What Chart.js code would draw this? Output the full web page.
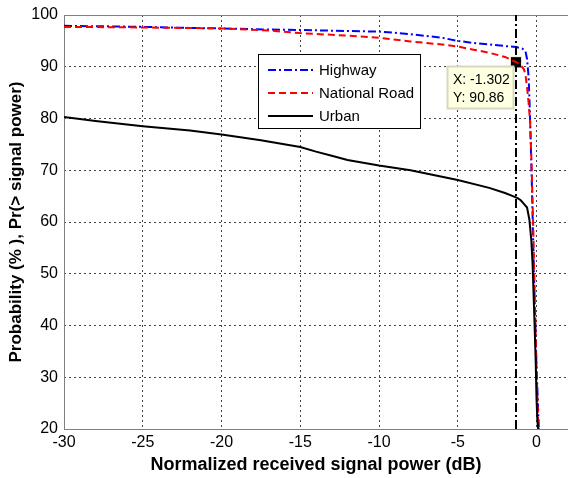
<!DOCTYPE html>
<html>
<head>
<meta charset="utf-8">
<script src="https://cdn.jsdelivr.net/npm/chart.js@4.4.1/dist/chart.umd.min.js"></script>
<style>
  html, body { margin: 0; padding: 0; background: #fff; overflow: hidden; }
  #wrap { width: 568px; height: 478px; }
</style>
</head>
<body>
<div id="wrap"><canvas id="myChart" width="568" height="478"></canvas></div>
<script>
// data
const highwayX = [-30, -27, -25, -22, -20, -17, -15, -12, -10, -8, -6, -5, -4, -3, -2, -1.3, -0.9, -0.7, -0.6, -0.5, -0.45, -0.4, -0.3, -0.2, -0.1, 0, 0.1, 0.15];
const highwayY = [97.9, 97.8, 97.7, 97.5, 97.4, 97.2, 97.1, 96.9, 96.8, 96.3, 95.6, 95.0, 94.6, 94.3, 94.0, 93.8, 93.5, 93.0, 91.5, 88, 84, 79, 68, 55, 43, 32, 24, 20];

const nationalX = [-30, -25, -20, -17, -15, -12, -10, -8, -6, -5, -4, -3, -2, -1.3, -1, -0.8, -0.7, -0.6, -0.5, -0.4, -0.3, -0.2, -0.1, 0, 0.1, 0.15];
const nationalY = [97.7, 97.6, 97.4, 97.0, 96.5, 96.0, 95.6, 94.9, 94.3, 93.9, 93.3, 92.7, 91.9, 90.9, 90.3, 89.5, 88.5, 86, 83, 79, 70, 58, 44, 32, 22, 20];

const urbanX = [-30, -28, -25, -22, -20, -17.5, -15, -14, -13, -12, -10, -8, -5, -3, -2, -1.5, -1.2, -1, -0.8, -0.6, -0.45, -0.33, -0.25, -0.2, -0.13, -0.05, 0, 0.05, 0.1];
const urbanY = [80.3, 79.5, 78.5, 77.7, 76.9, 75.8, 74.5, 73.6, 72.8, 72.0, 70.9, 70.0, 68.1, 66.6, 65.6, 65.0, 64.6, 64.2, 63.5, 62.8, 60.4, 56.5, 52, 47.4, 41, 33, 26, 22, 20];

const cursorX = -1.302;
const cursorY = 90.86;
const cursorLineY = [20, 100];

const seriesNames = ['Highway', 'National Road', 'Urban'];

const FONT = 'Arial, "Liberation Sans", sans-serif';

function toPoints(xs, ys) {
    return xs.map((x, i) => ({ x: x, y: ys[i] }));
}

const frameBorder = {
    id: 'frameBorder',
    beforeDatasetsDraw(chart) {
        const { ctx, chartArea: a } = chart;
        ctx.save();
        ctx.strokeStyle = '#808080';
        ctx.lineWidth = 1;
        ctx.strokeRect(a.left + 0.5, a.top + 0.5, a.right - a.left, a.bottom - a.top);
        ctx.restore();
    }
};

// legend box and data tip, drawn before the marker so the marker stays on top
const legendBox = {
    id: 'legendBox',
    afterDatasetDraw(chart, args) {
        if (args.index !== 3) return;
        const ctx = chart.ctx;
        ctx.save();
        ctx.fillStyle = '#fff';
        ctx.fillRect(258, 54, 162, 74);
        ctx.strokeStyle = '#000';
        ctx.lineWidth = 1;
        ctx.strokeRect(258.5, 54.5, 162, 74);
        const rows = [
            { y: 70, color: '#0000ff', dash: [8, 3, 2, 3] },
            { y: 93, color: '#ff0000', dash: [7, 4] },
            { y: 116, color: '#000000', dash: [] }
        ];
        rows.forEach((r, i) => {
            ctx.beginPath();
            ctx.setLineDash(r.dash);
            ctx.strokeStyle = r.color;
            ctx.lineWidth = 2;
            ctx.moveTo(268, r.y);
            ctx.lineTo(313, r.y);
            ctx.stroke();
            ctx.setLineDash([]);
            ctx.fillStyle = '#000';
            ctx.font = '15px ' + FONT;
            ctx.textBaseline = 'middle';
            ctx.textAlign = 'left';
            ctx.fillText(seriesNames[i], 319, r.y + 1);
        });

        // data tip
        ctx.fillStyle = '#ffffe1';
        ctx.fillRect(447, 66, 66, 42);
        ctx.strokeStyle = '#d8d8c0';
        ctx.strokeRect(447.5, 66.5, 66, 42);
        ctx.fillStyle = '#000';
        ctx.font = '14px ' + FONT;
        ctx.fillText('X: -1.302', 453, 80);
        ctx.fillText('Y: 90.86', 453, 98);
        ctx.restore();
    }
};

new Chart(document.getElementById('myChart'), {
    type: 'line',
    data: {
        datasets: [
            {
                label: 'Cursor',
                data: toPoints([cursorX, cursorX], cursorLineY),
                borderColor: '#000',
                borderWidth: 2,
                borderDash: [9, 3, 2, 3],
                pointRadius: 0
            },
            {
                label: seriesNames[2],
                data: toPoints(urbanX, urbanY),
                borderColor: '#000',
                borderWidth: 2,
                pointRadius: 0
            },
            {
                label: seriesNames[1],
                data: toPoints(nationalX, nationalY),
                borderColor: '#ff0000',
                borderWidth: 2,
                borderDash: [7, 4],
                pointRadius: 0
            },
            {
                label: seriesNames[0],
                data: toPoints(highwayX, highwayY),
                borderColor: '#0000ff',
                borderWidth: 2,
                borderDash: [8, 3, 2, 3],
                pointRadius: 0
            },
            {
                label: 'Marker',
                data: [{ x: cursorX, y: cursorY }],
                showLine: false,
                pointStyle: 'rect',
                pointRadius: 8,
                backgroundColor: '#000',
                borderColor: '#ffffe1',
                borderWidth: 1
            }
        ]
    },
    options: {
        responsive: false,
        animation: false,
        layout: { autoPadding: false, padding: { top: 15, right: 0, left: 0, bottom: 0 } },
        elements: { line: { tension: 0, fill: false } },
        plugins: {
            legend: { display: false },
            tooltip: { enabled: false }
        },
        scales: {
            x: {
                type: 'linear',
                min: -30,
                max: 2,
                border: { display: false, dash: [2, 3] },
                grid: {
                    color: '#444',
                    lineWidth: 1,
                    drawTicks: false
                },
                ticks: {
                    stepSize: 5,
                    includeBounds: false,
                    padding: 4,
                    color: '#000',
                    font: { family: FONT, size: 16 }
                },
                title: {
                    display: true,
                    text: 'Normalized received signal power (dB)',
                    color: '#000',
                    font: { family: FONT, size: 18, weight: 'bold' },
                    padding: { top: 0, bottom: 2 }
                },
                afterFit(scale) {
                    scale.height = 49;
                    scale.paddingRight = 0;
                    scale.paddingLeft = 0;
                }
            },
            y: {
                min: 20,
                max: 100,
                border: { display: false, dash: [2, 3] },
                grid: {
                    color: '#444',
                    lineWidth: 1,
                    drawTicks: false
                },
                ticks: {
                    stepSize: 10,
                    padding: 6,
                    color: '#000',
                    font: { family: FONT, size: 16 }
                },
                title: {
                    display: true,
                    text: 'Probability (% ), Pr(> signal power)',
                    color: '#000',
                    font: { family: FONT, size: 17, weight: 'bold' },
                    padding: { top: 6, bottom: 0 }
                },
                afterFit(scale) {
                    scale.width = 64;
                    scale.paddingTop = 0;
                    scale.paddingBottom = 0;
                }
            }
        }
    },
    plugins: [frameBorder, legendBox]
});
</script>
</body>
</html>
